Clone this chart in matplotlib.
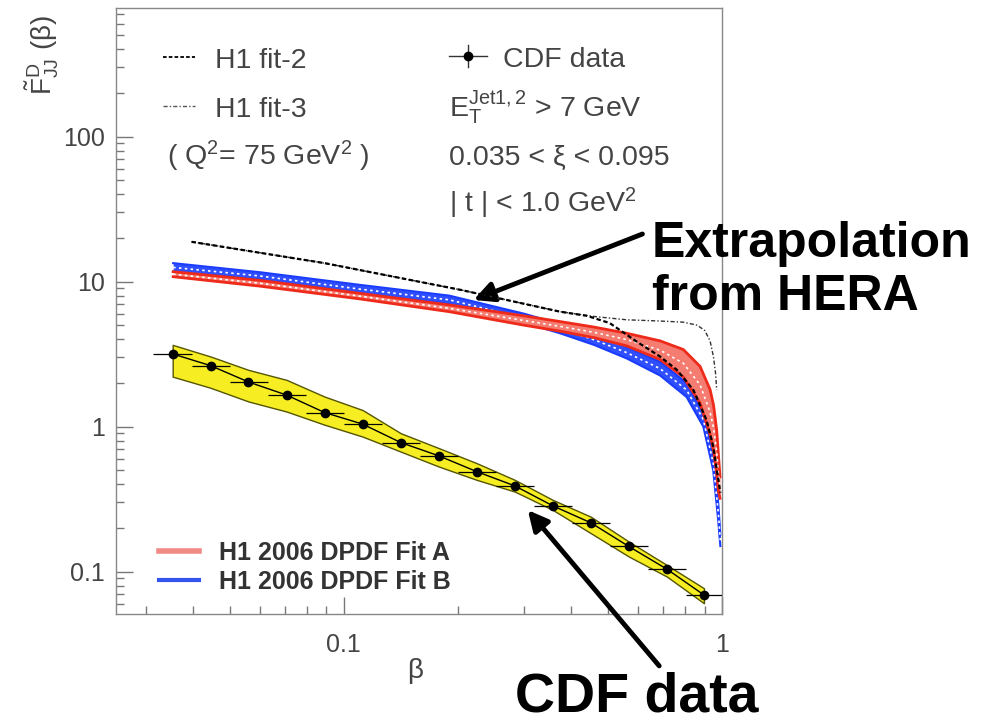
import numpy as np
import matplotlib
matplotlib.use("Agg")
import matplotlib.pyplot as plt
from matplotlib.lines import Line2D

plt.rcParams['font.family'] = ['Liberation Sans', 'DejaVu Sans']
plt.rcParams['mathtext.fontset'] = 'custom'
plt.rcParams['mathtext.rm'] = 'Liberation Sans'
plt.rcParams['mathtext.it'] = 'Liberation Sans:italic'
plt.rcParams['mathtext.bf'] = 'Liberation Sans:bold'

# CDF dijet data (bin edges, centres, values, systematic band)
cdf_edges = [0.0314, 0.0396, 0.0499, 0.0629, 0.0793, 0.100, 0.126, 0.159,
             0.200, 0.252, 0.318, 0.401, 0.505, 0.637, 0.803, 1.0]
cdf_beta = [0.0353, 0.0445, 0.0560, 0.0706, 0.0890, 0.1122, 0.1415, 0.1785,
            0.2248, 0.2834, 0.3572, 0.4501, 0.5673, 0.7150, 0.8959]
cdf_val = [3.17, 2.63, 2.03, 1.65, 1.25, 1.04, 0.776, 0.628,
           0.489, 0.390, 0.284, 0.217, 0.149, 0.104, 0.069]
cdf_band_hi = [3.66, 3.04, 2.46, 2.10, 1.61, 1.30, 0.90, 0.71,
               0.559, 0.429, 0.312, 0.239, 0.161, 0.111, 0.0768]
cdf_band_lo = [2.21, 1.85, 1.49, 1.27, 1.03, 0.853, 0.672, 0.530,
               0.429, 0.356, 0.266, 0.184, 0.127, 0.0924, 0.0605]

# H1 2006 DPDF fits (extrapolated bands)
fitA_beta = [0.0354, 0.06, 0.11, 0.19, 0.30, 0.373, 0.46, 0.56, 0.686, 0.79,
             0.875, 0.93, 0.95, 0.968, 0.978, 0.988]
fitA_hi = [11.7, 10.2, 8.3, 6.9, 5.8, 5.3, 4.85, 4.4, 3.9, 3.4,
           2.6, 1.8, 1.4, 0.95, 0.65, 0.45]
fitA_lo = [10.8, 9.3, 7.6, 6.2, 5.0, 4.55, 4.1, 3.6, 2.9, 2.2,
           1.45, 0.88, 0.68, 0.48, 0.36, 0.32]

fitB_beta = [0.0354, 0.06, 0.11, 0.19, 0.30, 0.373, 0.46, 0.56, 0.686, 0.806,
             0.8925, 0.948, 0.978, 0.99]
fitB_hi = [13.4, 11.6, 9.5, 8.0, 6.0, 5.1, 4.3, 3.55, 2.8, 2.0,
           1.25, 0.63, 0.29, 0.18]
fitB_lo = [11.7, 10.3, 8.3, 7.0, 5.2, 4.4, 3.65, 2.95, 2.25, 1.6,
           1.0, 0.50, 0.22, 0.15]

# older H1 fits
fit2_beta = [0.0396, 0.089, 0.2035, 0.373, 0.44, 0.505, 0.5945, 0.686, 0.76,
             0.84, 0.91, 0.948, 0.978, 0.99]
fit2_val = [18.8, 13.4, 8.77, 6.2, 5.8, 5.17, 3.86, 3.04, 2.46,
            1.79, 1.11, 0.73, 0.43, 0.35]
fit3_beta = [0.0396, 0.089, 0.2035, 0.373, 0.46, 0.56, 0.68, 0.79, 0.86,
             0.90, 0.93, 0.95, 0.962, 0.968]
fit3_val = [18.8, 13.4, 8.77, 6.2, 5.74, 5.45, 5.35, 5.25, 5.0,
            4.6, 3.9, 3.0, 2.3, 1.79]

W, H = 993, 723
fig = plt.figure(figsize=(W / 100, H / 100), dpi=100)
ax = fig.add_axes([116 / W, 1 - 614 / H, (722 - 116) / W, (614 - 8) / H])


def fpx(x, y):
    return x / W, 1 - y / H


gray = '#444444'

# bands
ax.fill_between(fitB_beta, fitB_lo, fitB_hi, color='#3050ff', lw=0, zorder=2)
ax.plot(fitB_beta, fitB_hi, color='#1a3cff', lw=1.5, zorder=2)
ax.plot(fitB_beta, fitB_lo, color='#1a3cff', lw=1.5, zorder=2)
ax.plot(fitB_beta, np.sqrt(np.array(fitB_lo) * np.array(fitB_hi)), color='white',
        lw=1.2, ls=(0, (1.5, 2)), zorder=2)

ax.fill_between(fitA_beta, fitA_lo, fitA_hi, color='#f47c70', lw=0, zorder=3)
ax.plot(fitA_beta, fitA_hi, color='#ee2a1a', lw=2, zorder=3)
ax.plot(fitA_beta, fitA_lo, color='#ee2a1a', lw=2, zorder=3)
ax.plot(fitA_beta, np.sqrt(np.array(fitA_lo) * np.array(fitA_hi)), color='white',
        lw=1.2, ls=(0, (1.5, 2)), zorder=3)

ax.plot(fit3_beta, fit3_val, color='#333333', lw=1.0, ls=(0, (3, 1.5, 1, 1.5)), zorder=4)
ax.plot(fit2_beta, fit2_val, color='black', lw=1.6, ls=(0, (2, 1.2)), zorder=4)

# CDF data
ax.fill_between(cdf_beta, cdf_band_lo, cdf_band_hi, facecolor='#f6ee22',
                edgecolor='#555500', lw=1.0, zorder=5)
ax.plot(cdf_beta, cdf_val, color='black', lw=1.0, zorder=6)
xlo = np.array(cdf_beta) - np.array(cdf_edges[:-1])
xhi = np.array(cdf_edges[1:]) - np.array(cdf_beta)
ax.errorbar(cdf_beta, cdf_val, xerr=[xlo, xhi], fmt='o', color='black',
            ms=6, elinewidth=0.9, capsize=0, zorder=7)

ax.set_xscale('log')
ax.set_yscale('log')
ax.set_xlim(0.025, 1.0)
ax.set_ylim(0.051, 770)
ax.set_xticks([0.1, 1])
ax.set_xticklabels(['0.1', '1'])
ax.set_yticks([0.1, 1, 10, 100])
ax.set_yticklabels(['0.1', '1', '10', '100'])
ax.tick_params(which='both', direction='in', color='#777777', top=False, right=False)
ax.tick_params(which='major', length=12, width=1, labelsize=18, labelcolor=gray, pad=8)
ax.tick_params(which='minor', length=6, width=1)
ax.tick_params(axis='x', pad=14)
for s in ax.spines.values():
    s.set_color('#888888')
    s.set_linewidth(1.0)

fig.text(*fpx(415, 678), 'β', fontsize=20, color=gray, ha='center', va='baseline')
fig.text(*fpx(42, 55), r'$\tilde{\mathrm{F}}^{\mathrm{D}}_{\mathrm{JJ}}$ (β)', fontsize=20,
         color=gray, rotation=90, ha='center', va='center')

# top-left legend
fig.add_artist(Line2D([163 / W, 195 / W], [1 - 57 / H] * 2, color='black', lw=1.3, ls=(0, (2, 1.2))))
fig.add_artist(Line2D([163 / W, 195 / W], [1 - 106 / H] * 2, color='#555555', lw=1.0,
                      ls=(0, (3, 1.5, 1, 1.5))))
fig.text(*fpx(215, 68), 'H1 fit-2', fontsize=20.5, color=gray, va='baseline')
fig.text(*fpx(215, 117), 'H1 fit-3', fontsize=20.5, color=gray, va='baseline')
fig.text(*fpx(167, 165), r'( Q$^2$= 75 GeV$^2$ )', fontsize=20.5, color=gray, va='baseline')

# top-right legend
fig.add_artist(Line2D([449 / W, 487 / W], [1 - 56 / H] * 2, color='#333333', lw=1.0))
fig.add_artist(Line2D([468 / W, 468 / W], [1 - 45 / H, 1 - 67 / H], color='#333333', lw=1.0))
fig.add_artist(Line2D([468 / W], [1 - 56 / H], color='black', marker='o', ms=6))
fig.text(*fpx(503, 67), 'CDF data', fontsize=20.5, color=gray, va='baseline')
fig.text(*fpx(449, 117), r'$\mathrm{E_T^{Jet1,2}}$ > 7 GeV', fontsize=20.5, color=gray, va='baseline')
fig.text(*fpx(449, 165), '0.035 < ξ < 0.095', fontsize=20.5, color=gray, va='baseline')
fig.text(*fpx(449, 212), r'| t | < 1.0 GeV$^2$', fontsize=20.5, color=gray, va='baseline')

# bottom-left legend
fig.add_artist(Line2D([159 / W, 199 / W], [1 - 551 / H] * 2, color='#f08a84', lw=4))
fig.add_artist(Line2D([159 / W, 199 / W], [1 - 580 / H] * 2, color='#3355ee', lw=3))
fig.text(*fpx(219, 560), 'H1 2006 DPDF Fit A', fontsize=18, fontweight='bold', color='#333333',
         va='baseline')
fig.text(*fpx(219, 589), 'H1 2006 DPDF Fit B', fontsize=18, fontweight='bold', color='#333333',
         va='baseline')

# annotations
fig.text(*fpx(652, 310), 'Extrapolation\nfrom HERA', fontsize=36, fontweight='bold',
         color='black', va='baseline', linespacing=1.2)
ax.annotate('', xy=fpx(471, 301), xytext=fpx(645, 233), xycoords='figure fraction',
            textcoords='figure fraction',
            arrowprops=dict(arrowstyle='-|>', lw=3.5, color='black', mutation_scale=30))
fig.text(*fpx(515, 711), 'CDF data', fontsize=40, fontweight='bold', color='black',
         va='baseline')
ax.annotate('', xy=fpx(526, 508), xytext=fpx(661, 668), xycoords='figure fraction',
            textcoords='figure fraction',
            arrowprops=dict(arrowstyle='-|>', lw=3.5, color='black', mutation_scale=30))

fig.savefig('out.png', dpi=100)
